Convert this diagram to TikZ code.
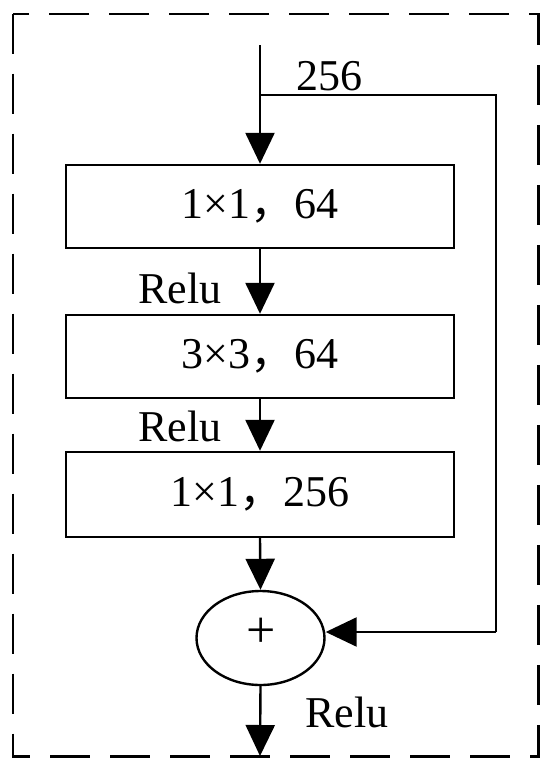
\documentclass[tikz,border=0pt]{standalone}
\usepackage{fontspec}
\setmainfont{Liberation Serif}
\newfontfamily\cjk{Noto Sans CJK SC}
\usetikzlibrary{arrows.meta,shapes.geometric}
\begin{document}
\begin{tikzpicture}[x=1pt,y=-1pt,
  every node/.style={font=\fontsize{44}{50}\selectfont},
  stepbox/.style={draw,line width=2.4pt,minimum width=388pt,inner sep=0pt},
  conn/.style={line width=2.4pt,-{Triangle[length=31pt,width=29pt]}},
  plain/.style={line width=2.4pt},
  lbl/.style={anchor=base west,inner sep=0pt}]
\useasboundingbox (0,0) rectangle (550,769);
\draw[line width=2.4pt,dash pattern=on 40pt off 20pt] (12.7,13.7) rectangle (538.3,756.3);
\node[stepbox,minimum height=83pt] (b1) at (260,206.5) {1×1{\cjk，}64};
\node[stepbox,minimum height=83pt] (b2) at (260,356.5) {3×3{\cjk，}64};
\node[stepbox,minimum height=85pt] (b3) at (260,494.5) {1×1{\cjk，}256};
\node[draw,ellipse,line width=2.4pt,minimum width=128pt,minimum height=94pt,inner sep=0pt] (sum) at (260.5,638) {};
\node[inner sep=0pt,font=\fontsize{52}{56}\selectfont] (plus) at (261,633) {+};
\coordinate (in) at (260,45);
\coordinate (br) at (260,95);
\coordinate (rt) at (496,95);
\coordinate (rb) at (496,632);
\coordinate (out) at (260,756);
\draw[conn] (in) -- (b1.north);
\draw[plain] (br) -- (rt) -- (rb);
\draw[conn] (rb) -- (rb -| sum.east);
\draw[conn] (b1.south) -- (b2.north);
\draw[conn] (b2.south) -- (b3.north);
\draw[conn] (b3.south) -- (sum.north);
\draw[conn] (sum.south) -- (out);
\node[lbl] (n256) at (296,90) {256};
\node[lbl] (r1) at (138,303) {Relu};
\node[lbl] (r2) at (138,441) {Relu};
\node[lbl] (r3) at (305,727) {Relu};
\end{tikzpicture}
\end{document}
